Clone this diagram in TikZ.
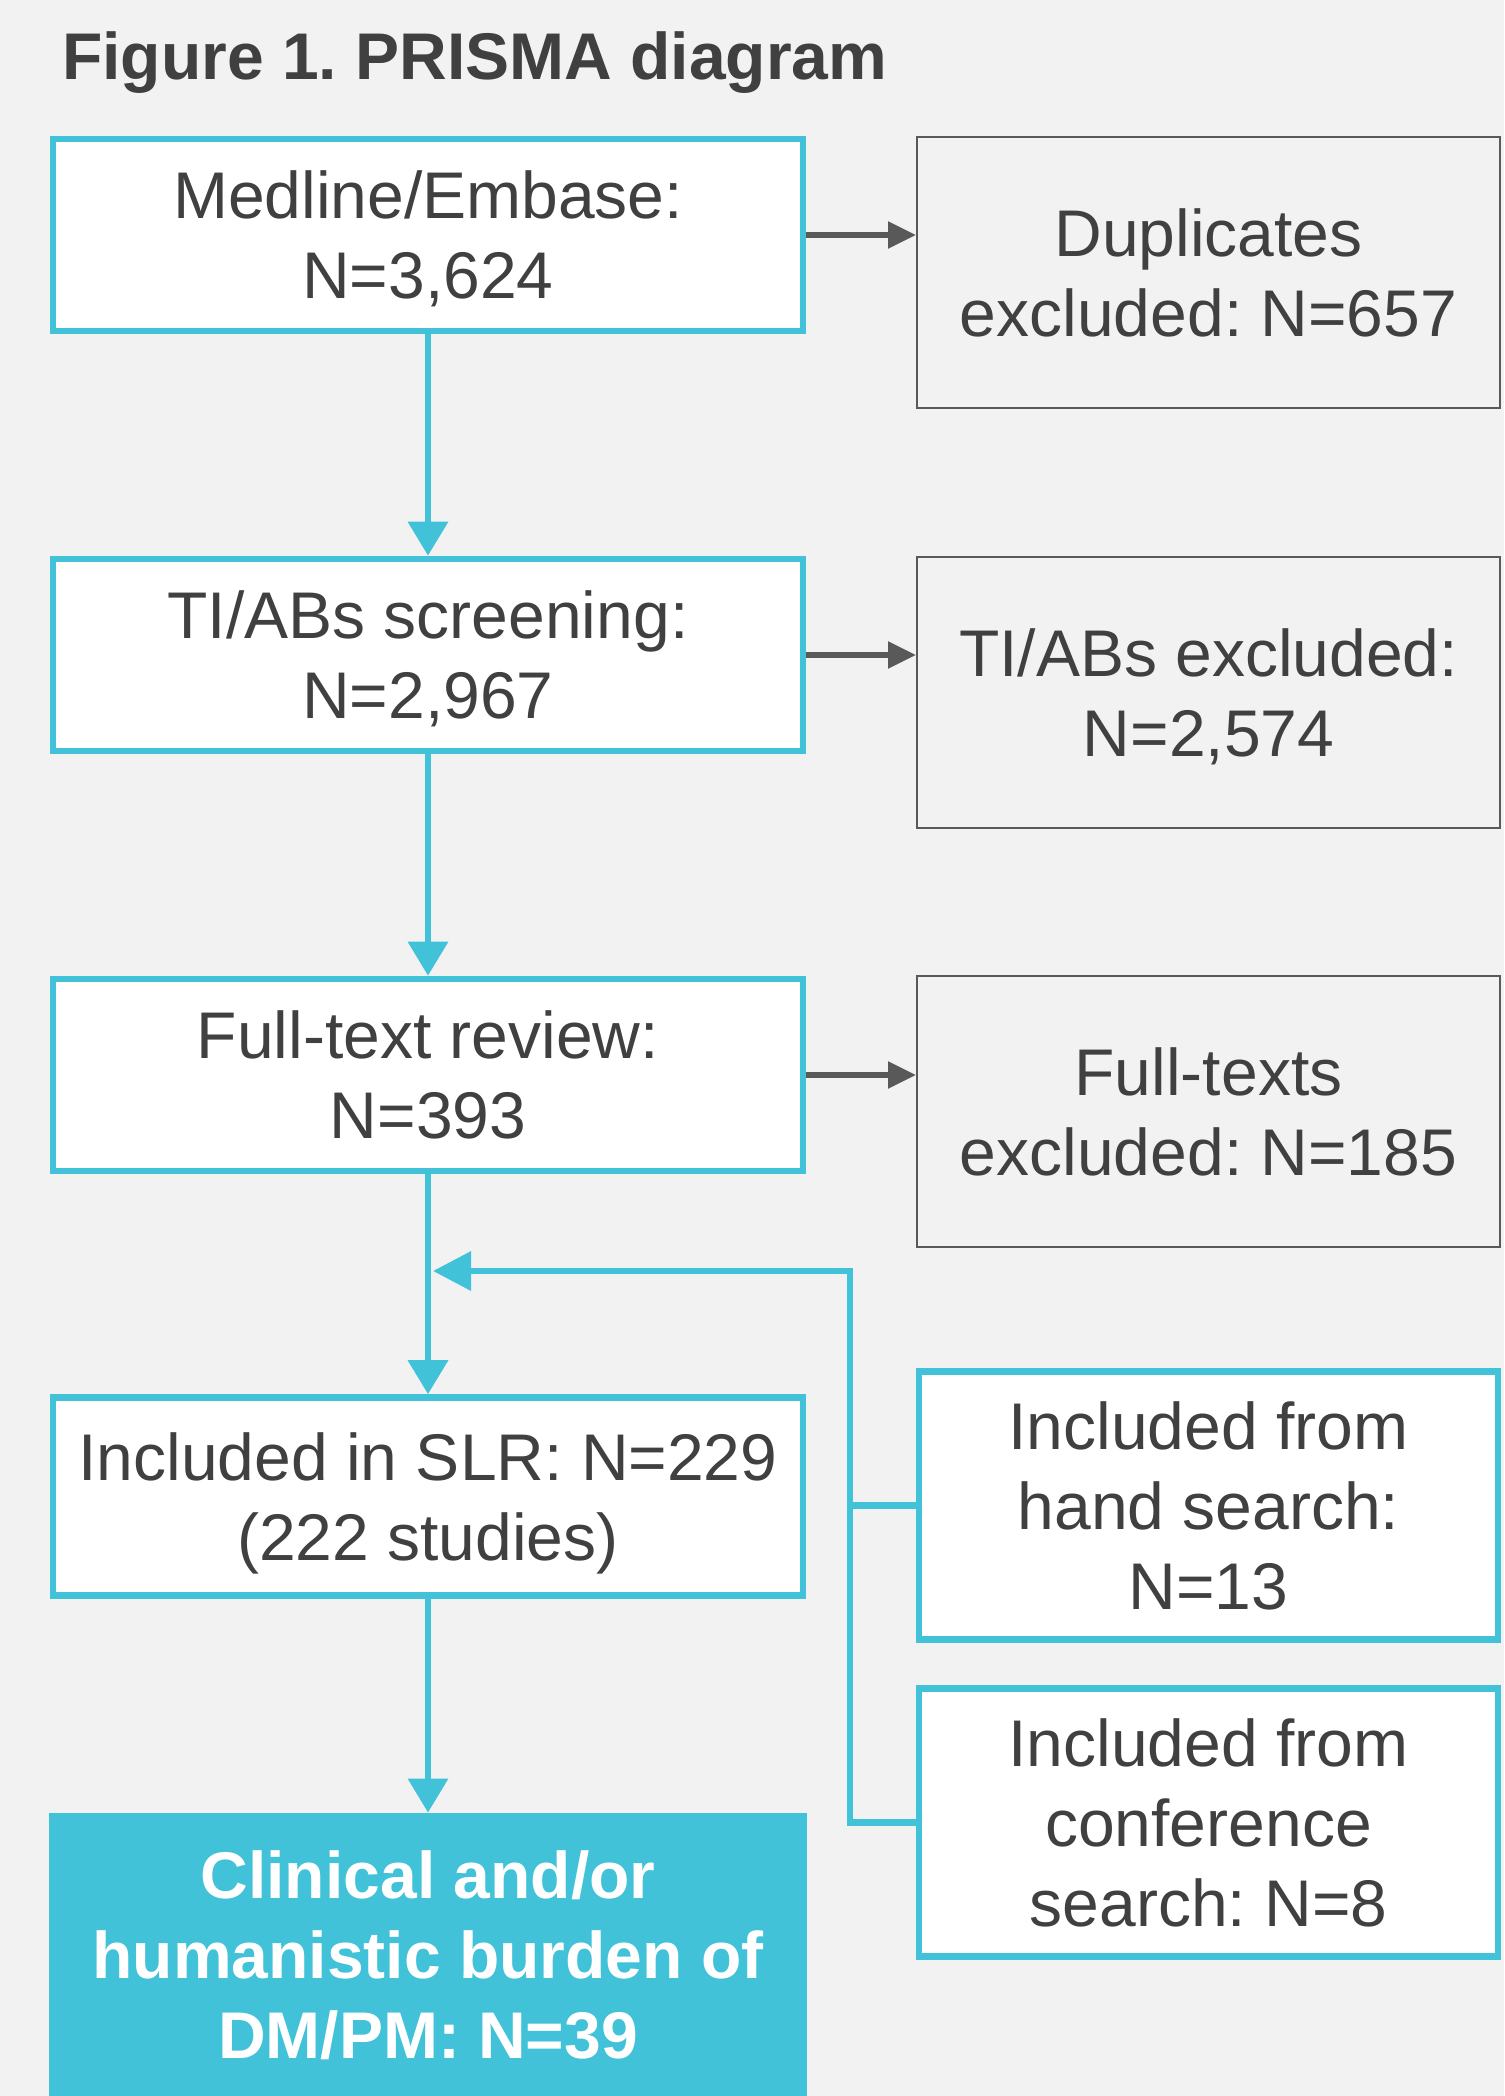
\documentclass[tikz,border=0pt]{standalone}
\usepackage{fontspec}
\setmainfont{Liberation Sans}
\usetikzlibrary{arrows.meta}
\definecolor{prismacyan}{HTML}{41C2D8}
\definecolor{textgray}{HTML}{404040}
\definecolor{linegray}{HTML}{595959}
\definecolor{backgray}{HTML}{F2F2F2}
\frenchspacing
\tikzset{
  stage/.style={draw=prismacyan, line width=3.3pt, fill=white, minimum width=375pt, minimum height=96pt, align=center, inner sep=0pt, text depth=0pt},
  excl/.style={draw=linegray, line width=1pt, minimum width=291.5pt, minimum height=135.5pt, align=center, inner sep=0pt, text depth=0pt},
  extra/.style={draw=prismacyan, line width=3.3pt, fill=white, minimum width=289.5pt, minimum height=134pt, align=center, inner sep=0pt, text depth=0pt},
  flow/.style={draw=prismacyan, line width=3.3pt},
  down/.style={flow, -{Triangle[length=17pt,width=19.5pt]}},
  side/.style={draw=linegray, line width=2.6pt, -{Triangle[length=14pt,width=13pt]}},
}
\begin{document}
\begin{tikzpicture}[x=0.5pt, y=-0.5pt, font=\fontsize{33}{40}\selectfont, text=textgray]
\fill[backgray] (0,0) rectangle (1504,2096);
\useasboundingbox (0,0) rectangle (1504,2096);
\node[anchor=base west, font=\fontsize{33}{40}\selectfont\bfseries] (title) at (55,80) {Figure 1. PRISMA diagram};

\node[stage] (medline) at (428,235) {Medline/Embase:\\N=3,624};
\node[stage] (screen) at (428,655) {TI/ABs screening:\\N=2,967};
\node[stage] (fulltext) at (428,1075) {Full-text review:\\N=393};
\node[stage, minimum height=99pt] (slr) at (428,1496.5) {Included in SLR: N=229\\(222 studies)};
\node[fill=prismacyan, minimum width=379pt, minimum height=141.5pt, inner sep=0pt, align=center, text depth=0pt,
      text=white, font=\fontsize{33}{40}\selectfont\bfseries] (burden) at (428,1954.5)
      {Clinical and/or\\humanistic burden of\\DM/PM: N=39};

\node[excl] (dup) at (1208.5,272.5) {Duplicates\\excluded: N=657};
\node[excl] (tiab) at (1208.5,692.5) {TI/ABs excluded:\\N=2,574};
\node[excl] (ftex) at (1208.5,1111.5) {Full-texts\\excluded: N=185};
\node[extra] (hand) at (1208.5,1505.5) {Included from\\hand search:\\N=13};
\node[extra] (conf) at (1208.5,1822.5) {Included from\\conference\\search: N=8};

\draw[down] (medline) -- (screen);
\draw[down] (screen) -- (fulltext);
\draw[down] (fulltext) -- (slr);
\draw[down] (slr) -- (burden);

\draw[side] (medline.east) -- (medline.east -| dup.west);
\draw[side] (screen.east) -- (screen.east -| tiab.west);
\draw[side] (fulltext.east) -- (fulltext.east -| ftex.west);

\coordinate (bend) at (850,1271);
\coordinate (entry) at (433,1271);
\draw[flow, -{Triangle[length=19pt,width=19pt]}] (conf.west) -| (bend) -- (entry);
\draw[flow] (hand.west) -- (hand.west -| bend);
\end{tikzpicture}
\end{document}
